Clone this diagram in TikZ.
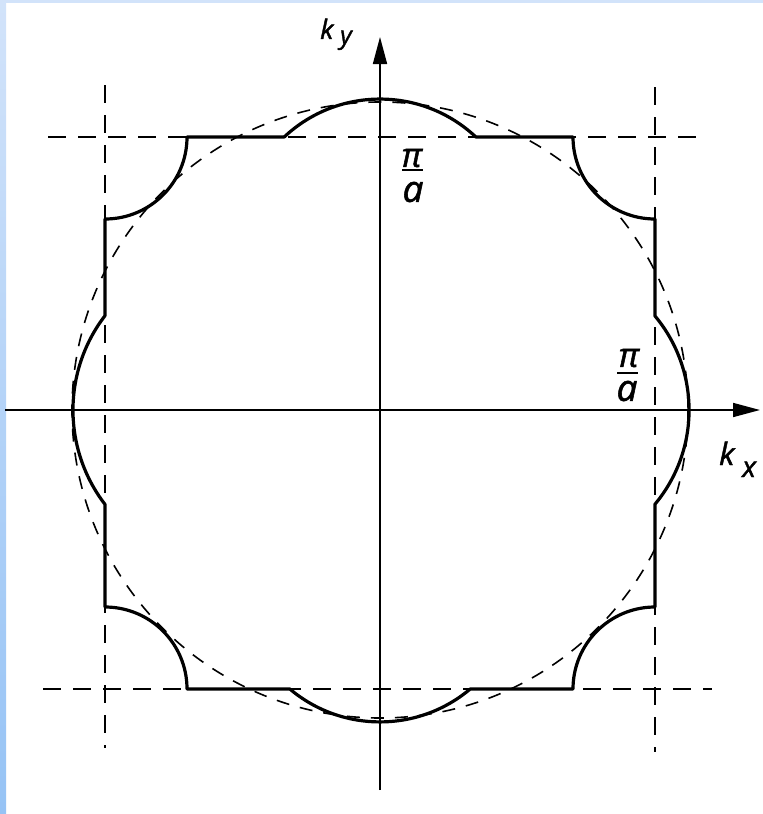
\documentclass[tikz,border=0pt]{standalone}
\usepackage{fontspec}
\setmainfont{Open Sans}
\newfontfamily\lblfont[FakeBold=1.5]{Open Sans}
\usetikzlibrary{arrows.meta}
\definecolor{bgA}{RGB}{210,227,250}
\definecolor{bgB}{RGB}{150,195,245}
\begin{document}
\begin{tikzpicture}[x=1bp,y=-1bp,
  fs/.style={line width=3.2bp, line join=round},
  zb/.style={line width=1.8bp, dash pattern=on 18bp off 12bp},
  fc/.style={line width=1.6bp, dash pattern=on 13bp off 11bp},
  axis/.style={line width=1.7bp, -{Triangle[length=27bp,width=14bp]}},
  lbl/.style={inner sep=0pt}]
\useasboundingbox (0,0) rectangle (763,814);
\fill[white] (0,0) rectangle (763,814);
\fill[bgA] (0,0) rectangle (763,3);
\shade[top color=bgA, bottom color=bgB] (0,0) rectangle (6,814);
% zone boundaries
\draw[zb] (48,137) -- (705,137);
\draw[zb] (43,689) -- (712,689);
\draw[zb] (105,85) -- (105,748);
\draw[zb] (655,87) -- (655,752);
% free-electron circle
\coordinate (O) at (380,410);
\draw[fc] (O) circle[radius=308];
% Fermi surface
\draw[fs] (284.2,137) arc[start angle=226.8, end angle=313.2, radius=140]
 -- (573,137) arc[start angle=180, end angle=90, radius=82]
 -- (655,316) arc[start angle=-39.8, end angle=39.8, radius=147]
 -- (655,607) arc[start angle=-90, end angle=-180, radius=82]
 -- (470.2,689) arc[start angle=49.9, end angle=130.1, radius=140]
 -- (187,689) arc[start angle=0, end angle=-90, radius=82]
 -- (105,504.4) arc[start angle=142.5, end angle=217.5, radius=155]
 -- (105,219) arc[start angle=90, end angle=0, radius=82]
 -- cycle;
% axes
\coordinate (xL) at (5,410);
\coordinate (xR) at (760,410);
\coordinate (yB) at (380,790);
\coordinate (yT) at (380,37);
\draw[axis] (xL) -- (xR);
\draw[axis] (yB) -- (yT);
% labels
\node[lbl, anchor=base west, font=\lblfont\itshape\fontsize{27}{27}\selectfont] (ky) at (320,39) {k};
\node[lbl, anchor=base west, font=\lblfont\itshape\fontsize{25}{25}\selectfont] (kyy) at (340,44) {y};
\node[lbl, anchor=base west, font=\lblfont\itshape\fontsize{31}{31}\selectfont] (kx) at (719,465) {k};
\node[lbl, anchor=base west, font=\lblfont\itshape\fontsize{29}{29}\selectfont] (kxx) at (742,477) {x};
\node[lbl, font=\lblfont\itshape\fontsize{34}{34}\selectfont] (piT) at (412,158) {π};
\node[lbl, font=\lblfont\itshape\fontsize{37}{37}\selectfont] (aT) at (413,192) {a};
\draw[line width=2.2bp] (402,170) -- (423,170);
\node[lbl, font=\lblfont\itshape\fontsize{34}{34}\selectfont] (piR) at (629,358) {π};
\node[lbl, font=\lblfont\itshape\fontsize{37}{37}\selectfont] (aR) at (627,391) {a};
\draw[line width=2.2bp] (617,373) -- (638,373);
\end{tikzpicture}
\end{document}
